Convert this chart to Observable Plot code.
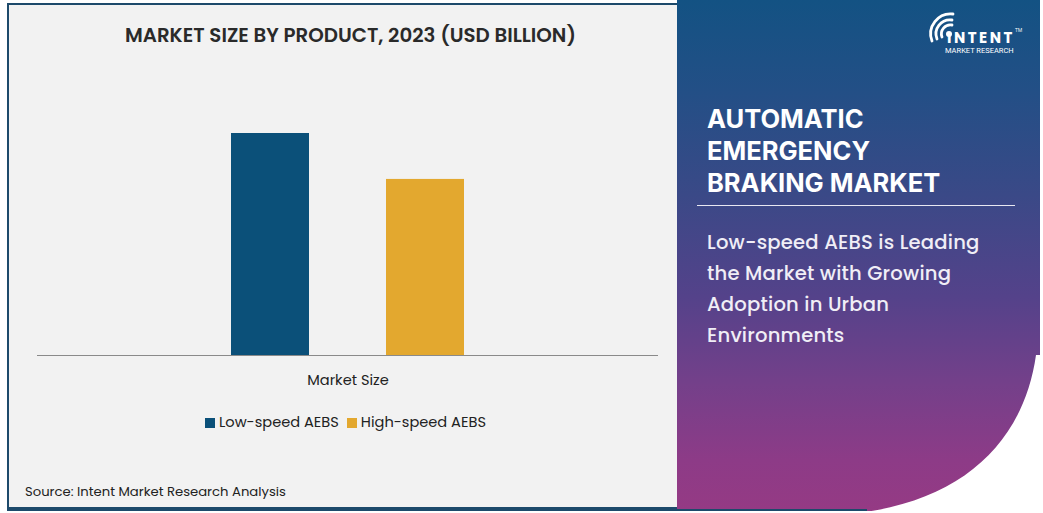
<!DOCTYPE html>
<html>
<head>
<meta charset="utf-8">
<script src="https://cdn.jsdelivr.net/npm/d3@7"></script>
<script src="https://cdn.jsdelivr.net/npm/@observablehq/plot@0.6"></script>
<style>
  html, body { margin:0; padding:0; background:#fff; }
  body { width:1043px; height:513px; position:relative; overflow:hidden; font-family: Poppins, "Open Sans", sans-serif; }
  #left { position:absolute; left:7px; top:3px; width:690px; height:506px; background:#f2f2f2; border:2px solid #1d4a6b; box-sizing:border-box; }
  #chart { position:absolute; left:0; top:0; }
  #title { position:absolute; left:0; width:701px; top:20px; text-align:center; font-size:19.8px; font-weight:600; color:#2a2a2a; }
  #legend { position:absolute; top:412px; left:205px; font-size:14.6px; color:#222; display:flex; align-items:center; }
  #legend .sw { display:inline-block; width:10px; height:10px; margin-right:4px; }
  #legend .item { display:flex; align-items:center; margin-right:8px; }
  #source { position:absolute; left:25px; top:482px; font-size:13.2px; color:#222; }
  #right { position:absolute; left:677px; top:0; width:363px; height:511px;
    background: linear-gradient(to bottom, #135283 0%, #234f86 18%, #3a4987 38%, #54428a 58%, #74408a 75%, #8d3b87 90%, #953a84 100%); }
  .rt { position:absolute; left:707px; color:#fff; font-family: Inter, sans-serif; font-size:25.5px; font-weight:700; line-height:26px; height:26px; white-space:nowrap; letter-spacing:0px; }
  #rline { position:absolute; left:697px; top:205px; width:318px; height:1px; background:#e8e8f2; }
  .rs { position:absolute; left:707px; color:#f0eef6; font-size:19.6px; font-weight:500; line-height:22px; height:22px; letter-spacing:0.2px; white-space:nowrap; }
  #bottomline { position:absolute; left:7px; top:509px; width:860px; height:2px; background:#1d4a6b; }
</style>
</head>
<body>
<div id="left"></div>
<div id="right"></div>
<div id="bottomline"></div>
<svg style="position:absolute;left:0;top:0" width="1043" height="513">
  <path d="M1043,355 L1036,355 C1024,440 965,500 858,513 L1043,513 Z" fill="#ffffff"/>
  <g fill="none" stroke="#fff" stroke-linecap="round">
    <path d="M942,37 A9,9 0 0 1 952,25" stroke-width="2.8"/>
    <path d="M937,39 A14,14 0 0 1 952,20" stroke-width="2.8"/>
    <path d="M932,41 A20,20 0 0 1 953,14" stroke-width="2.8"/>
  </g>
  <circle cx="949" cy="34" r="3" fill="#fff"/>
  <text x="947" y="43" fill="#fff" font-family="Poppins, 'Open Sans', sans-serif" font-weight="700" font-size="15" letter-spacing="2.5">INTENT</text>
  <text x="1015" y="32" fill="#fff" font-family="Open Sans, sans-serif" font-size="5">TM</text>
  <text x="945" y="53" fill="#fff" font-family="Roboto, 'Open Sans', sans-serif" font-size="7.5">MARKET RESEARCH</text>
</svg>
<div id="title">MARKET SIZE BY PRODUCT, 2023 (USD BILLION)</div>
<div id="chart"></div>
<div id="legend"></div>
<div id="source">Source: Intent Market Research Analysis</div>
<div class="rt" style="top:106px">AUTOMATIC</div>
<div class="rt" style="top:138px">EMERGENCY</div>
<div class="rt" style="top:170px">BRAKING MARKET</div>
<div id="rline"></div>
<div class="rs" style="top:231px">Low-speed AEBS is Leading</div>
<div class="rs" style="top:262px">the Market with Growing</div>
<div class="rs" style="top:293px">Adoption in Urban</div>
<div class="rs" style="top:324px">Environments</div>
<script>
const groups = ["Market Size"];
const categories = ["Low-speed AEBS", "High-speed AEBS"];
const values = [2.9, 2.3];
const colors = ["#0b5079", "#e3a82f"];

const data = categories.map((c, i) => ({group: groups[0], product: c, value: values[i]}));

const chart = Plot.plot({
  width: 680,
  height: 400,
  marginLeft: 37,
  marginRight: 22,
  marginTop: 133,
  marginBottom: 45,
  style: {background: "transparent", fontFamily: "Poppins, 'Open Sans', sans-serif", fontSize: "14px", color: "#222"},
  fx: {domain: groups, padding: 0, label: null},
  x: {domain: categories, paddingInner: 0.5, paddingOuter: 1.25, axis: null},
  y: {domain: [0, d3.max(values)], axis: null},
  color: {domain: categories, range: colors},
  marks: [
    Plot.barY(data, {fx: "group", x: "product", y: "value", fill: "product"}),
    Plot.ruleY([0], {stroke: "#8a8a8a", strokeWidth: 1.2}),
    Plot.axisFx({anchor: "bottom", tickSize: 0, tickPadding: 19, fontSize: 14.6, label: null})
  ]
});
document.getElementById("chart").appendChild(chart);

const legend = document.getElementById("legend");
categories.forEach((c, i) => {
  const item = document.createElement("span");
  item.className = "item";
  item.innerHTML = `<span class="sw" style="background:${colors[i]}"></span><span>${c}</span>`;
  legend.appendChild(item);
});
</script>
</body>
</html>
